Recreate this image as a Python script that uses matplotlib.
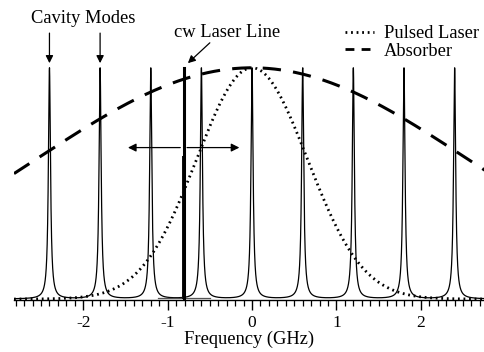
import numpy as np
import matplotlib
matplotlib.use("Agg")
import matplotlib.pyplot as plt
from matplotlib.lines import Line2D

plt.rcParams['font.family'] = ['Liberation Serif', 'DejaVu Serif']

# ---- data ----
mode_centers = [-2.4, -1.8, -1.2, -0.6, 0.0, 0.6, 1.2, 1.8, 2.4]   # GHz
mode_height = 1.0
mode_hwhm = 0.015          # GHz
cw_center = -0.81          # GHz
cw_halfwidth = 0.022       # GHz
cw_base_range = [-1.11, -0.50]
pulse_center = 0.0
pulse_sigma = 0.655
absorber_center = 0.0
absorber_sigma = 2.55
xticks = [-2, -1, 0, 1, 2]
xticklabels = ['-2', '-1', '0', '1', '2']
xlim = [-2.82, 2.76]

fig = plt.figure(figsize=(4.85, 3.52), dpi=100)
ax = fig.add_axes([14/485, 1 - 300/352, 1 - 14/485, 300/352])
ytop = 300/232
ax.set_xlim(*xlim)
ax.set_ylim(-0.004, ytop)

x = np.linspace(xlim[0], xlim[1], 30000)

# cavity modes (Lorentzian comb)
modes = np.zeros_like(x)
for c in mode_centers:
    modes += mode_hwhm**2 / (mode_hwhm**2 + (x - c)**2)
modes = np.minimum(modes, 1.0) * mode_height
ax.plot(x, modes, color='black', lw=0.9, zorder=3)

# pulsed laser
pulse = np.exp(-(x - pulse_center)**2 / (2 * pulse_sigma**2))
ax.plot(x, pulse, color='black', lw=2.0, linestyle=(0, (0.65, 1.35)),
        dash_capstyle='butt', zorder=2)

# absorber
absorber = np.exp(-(x - absorber_center)**2 / (2 * absorber_sigma**2))
ax.plot(x, absorber, color='black', lw=2.2, linestyle=(0, (6, 4)), zorder=2)

# cw laser line
ax.plot(cw_base_range, [0.006, 0.006], color='#555555', lw=0.9, zorder=3)
ax.fill_between([cw_center - cw_halfwidth, cw_center + cw_halfwidth], 0, 0.62,
                color='#111111', lw=0, zorder=4)
ax.plot([cw_center, cw_center], [0, 1.0], color='black', lw=2.2, zorder=4)

# scan arrows around cw line
arrow_y = 0.655
ax.annotate('', xy=(-1.47, arrow_y), xytext=(cw_center - 0.04, arrow_y),
            arrowprops=dict(arrowstyle='-|>', color='black', lw=0.9,
                            mutation_scale=12, shrinkA=0, shrinkB=0), zorder=5)
ax.annotate('', xy=(-0.15, arrow_y), xytext=(cw_center + 0.04, arrow_y),
            arrowprops=dict(arrowstyle='-|>', color='black', lw=0.9,
                            mutation_scale=12, shrinkA=0, shrinkB=0), zorder=5)

# annotations
ax.text(-2.0, 1.213, 'Cavity Modes', ha='center', va='center', fontsize=13.3)
for c in mode_centers[:2]:
    ax.annotate('', xy=(c, 1.02), xytext=(c, 1.15),
                arrowprops=dict(arrowstyle='-|>', color='black', lw=0.9,
                                mutation_scale=11, shrinkA=0, shrinkB=0))
ax.text(-0.29, 1.152, 'cw Laser Line', ha='center', va='center', fontsize=13.3)
ax.annotate('', xy=(-0.76, 1.02), xytext=(-0.50, 1.108),
            arrowprops=dict(arrowstyle='-|>', color='black', lw=0.9,
                            mutation_scale=11, shrinkA=0, shrinkB=0))

handles = [Line2D([], [], color='black', lw=2.0, linestyle=(0, (0.65, 1.35))),
           Line2D([], [], color='black', lw=2.0, linestyle=(0, (3.2, 2.6)))]
ax.legend(handles, ['Pulsed Laser', 'Absorber'], loc='upper right',
          bbox_to_anchor=(0.988, 0.915), frameon=False, fontsize=13.3,
          handlelength=1.6, handletextpad=0.55, labelspacing=0.02,
          borderaxespad=0, borderpad=0)

# axes styling
for s in ['top', 'left', 'right']:
    ax.spines[s].set_visible(False)
ax.spines['bottom'].set_linewidth(1.0)
ax.set_yticks([])
ax.set_xticks(xticks)
ax.set_xticklabels(xticklabels)
ax.set_xticks(np.arange(-2.8, 2.75, 0.1), minor=True)
ax.tick_params(axis='x', which='major', direction='out', length=7, width=1.0,
               labelsize=12.5, pad=4)
ax.tick_params(axis='x', which='minor', direction='out', length=4, width=0.9)
ax.set_xlabel('Frequency (GHz)', fontsize=13.3, labelpad=-0.5)

fig.savefig('out.png', dpi=100)
